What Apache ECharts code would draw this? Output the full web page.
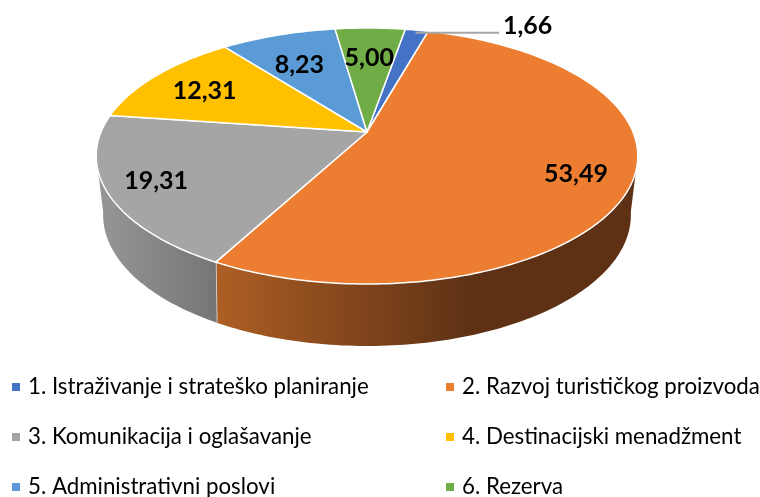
<!DOCTYPE html>
<html><head><meta charset="utf-8">
<style>html,body{margin:0;padding:0;background:#fff;overflow:hidden}#c{width:760px;height:497px}</style>
<script src="https://cdn.jsdelivr.net/npm/echarts@6/dist/echarts.min.js"></script>
</head><body><div id="c"></div>
<script>
const categories = ['1. Istraživanje i strateško planiranje','2. Razvoj turističkog proizvoda','3. Komunikacija i oglašavanje','4. Destinacijski menadžment','5. Administrativni poslovi','6. Rezerva'];
const values = [1.66,53.49,19.31,12.31,8.23,5.00];
const colors = ['#4472C4','#ED7D31','#A5A5A5','#FFC000','#5B9BD5','#70AD47'];

// layout of the tilted disc (perspective projection of a circle)
const CX=367, START=9.8;
const TOP={a:266,b:123.5,cy:132,p:0.1875}, BOT={a:258,b:125.2,cy:187.5,p:0.21};
const LABEL_R=[0.97,0.8,0.79,0.73,0.66,0.676];
const LABEL_DX=[0,0,-10,-5,-6,0];
const LABEL_DY=[0,3,2,1,0,0];
const total=values.reduce((s,v)=>s+v,0);

function pt(f,r,deg){const t=deg*Math.PI/180,w=1+f.p*r*Math.cos(t);
  return [CX+f.a*r*Math.sin(t)/w, f.cy-f.b*r*Math.cos(t)/w];}
function arc(f,from,to){const n=Math.max(2,Math.ceil(Math.abs(to-from)));const o=[];
  for(let i=0;i<=n;i++)o.push(pt(f,1,from+(to-from)*i/n));return o;}
function wallFill(i){
  if(i===1) return {type:'linear',x:215,y:0,x2:470,y2:0,global:true,colorStops:[{offset:0,color:'#AE5F24'},{offset:1,color:'#5E3115'}]};
  return {type:'linear',x:96,y:0,x2:217,y2:0,global:true,colorStops:[{offset:0,color:'#979797'},{offset:1,color:'#757575'}]};
}
const fmt=v=>v.toFixed(2).replace('.',',');
const labelStyle=(text,x,y,align)=>({text,x,y,align,verticalAlign:'middle',textAlign:align,textVerticalAlign:'middle',font:'bold 25px Lato',fill:'#000'});

function makeSeries(i){
  const before=values.slice(0,i).reduce((s,v)=>s+v,0);
  return {
    type:'custom',name:categories[i],coordinateSystem:'none',silent:true,
    itemStyle:{color:colors[i]},
    data:[[values[i]]],
    renderItem(params,api){
      const v=api.value(0);
      const a0=START+before/total*360, a1=a0+v/total*360;
      const kids=[];
      // side wall: only the part of the rim facing the viewer
      const lo=Math.max(a0,100.8), hi=Math.min(a1,259.2);
      if(hi>lo){
        const pts=arc(TOP,lo,hi).concat(arc(BOT,hi,lo));
        kids.push({type:'polygon',shape:{points:pts},style:{fill:wallFill(i),stroke:null}});
        if(a1<259.2) kids.push({type:'line',shape:{x1:pt(TOP,1,a1)[0],y1:pt(TOP,1,a1)[1],x2:pt(BOT,1,a1)[0],y2:pt(BOT,1,a1)[1]},style:{stroke:'#E6E6E6',lineWidth:1.5}});
      }
      // top face
      const top=[[CX,TOP.cy]].concat(arc(TOP,a0,a1));
      kids.push({type:'polygon',shape:{points:top},style:{fill:colors[i],stroke:'#fff',lineWidth:1.5,lineJoin:'round'}});
      // label
      const mid=(a0+a1)/2, p=pt(TOP,LABEL_R[i],mid);
      if(i===0){
        kids.push({type:'line',z2:5,shape:{x1:p[0],y1:p[1],x2:499,y2:p[1]},style:{stroke:'#A6A6A6',lineWidth:2}});
        kids.push({type:'text',z2:10,style:labelStyle(fmt(v),503,26,'left')});
      } else {
        kids.push({type:'text',z2:10,style:labelStyle(fmt(v),p[0]+LABEL_DX[i],p[1]+LABEL_DY[i],'center')});
      }
      return {type:'group',children:kids};
    }
  };
}
const legendText={fontFamily:'Lato',fontSize:22.3,color:'#000',lineHeight:26,padding:[0,0,0,3]};
const mkLegend=(i)=>({orient:'horizontal',left:i%2===0?12:446,top:374+25*(i-i%2),data:[categories[i]],icon:'rect',itemWidth:8,itemHeight:8,selectedMode:false,textStyle:legendText,padding:0});
const chart=echarts.init(document.getElementById('c'),null,{renderer:'canvas'});
chart.setOption({
  animation:false,
  backgroundColor:'#fff',
  legend:categories.map((_,i)=>mkLegend(i)),
  series:categories.map((_,i)=>makeSeries(i))
});
</script></body></html>
